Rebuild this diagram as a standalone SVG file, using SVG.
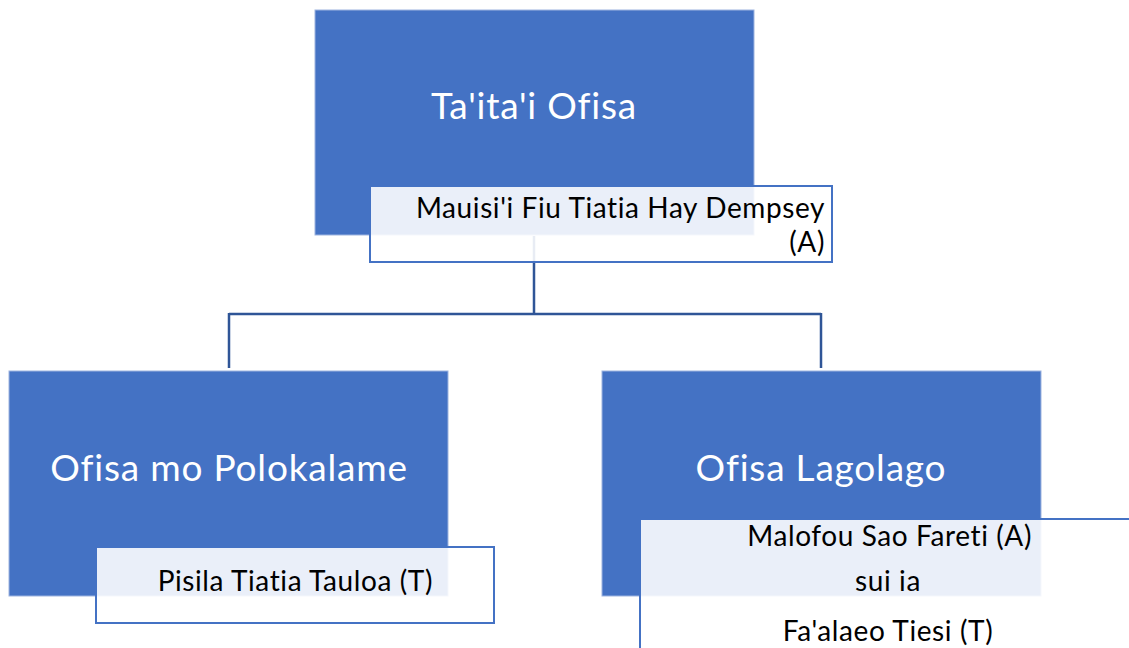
<svg xmlns="http://www.w3.org/2000/svg" width="1129" height="648" viewBox="0 0 1129 648">
<style>
.box{fill:#4472C4;stroke:#9DB4E0;stroke-width:1}
.sub{fill:#FFFFFF;fill-opacity:0.89;stroke:#4472C4;stroke-width:2}
.title{font-family:Lato,"Open Sans",sans-serif;font-size:37px;letter-spacing:0.8px;fill:#FFFFFF;text-anchor:middle}
.name{font-family:Lato,"Open Sans",sans-serif;font-size:28px;letter-spacing:0.6px;fill:#000000}
.conn{fill:none;stroke:#2F5597;stroke-width:2.5}
</style>
<rect width="1129" height="648" fill="#FFFFFF"/>
<g id="connectors">
<path class="conn" d="M534,236 V314 M229,314 H821 M229,313 V368 M821,313 V368"/>
</g>
<g id="node-taitai">
<rect class="box" x="315" y="10" width="439" height="225"/>
<text class="title" x="534" y="119">Ta'ita'i Ofisa</text>
<rect class="sub" x="370" y="186" width="462" height="76"/>
<text class="name" x="825" y="218" text-anchor="end">Mauisi'i Fiu Tiatia Hay Dempsey</text>
<text class="name" x="825" y="252" text-anchor="end">(A)</text>
</g>
<g id="node-polokalame">
<rect class="box" x="9" y="371" width="439" height="225"/>
<text class="title" x="229" y="481">Ofisa mo Polokalame</text>
<rect class="sub" x="96" y="547" width="398" height="76"/>
<text class="name" x="433" y="591" text-anchor="end">Pisila Tiatia Tauloa (T)</text>
</g>
<g id="node-lagolago">
<rect class="box" x="602" y="371" width="439" height="225"/>
<text class="title" x="821" y="481">Ofisa Lagolago</text>
<rect class="sub" x="640" y="519" width="520" height="160"/>
<text class="name" x="1032" y="546" text-anchor="end">Malofou Sao Fareti (A)</text>
<text class="name" x="888" y="591" text-anchor="middle">sui ia</text>
<text class="name" x="888" y="641" text-anchor="middle">Fa'alaeo Tiesi (T)</text>
</g>
</svg>
